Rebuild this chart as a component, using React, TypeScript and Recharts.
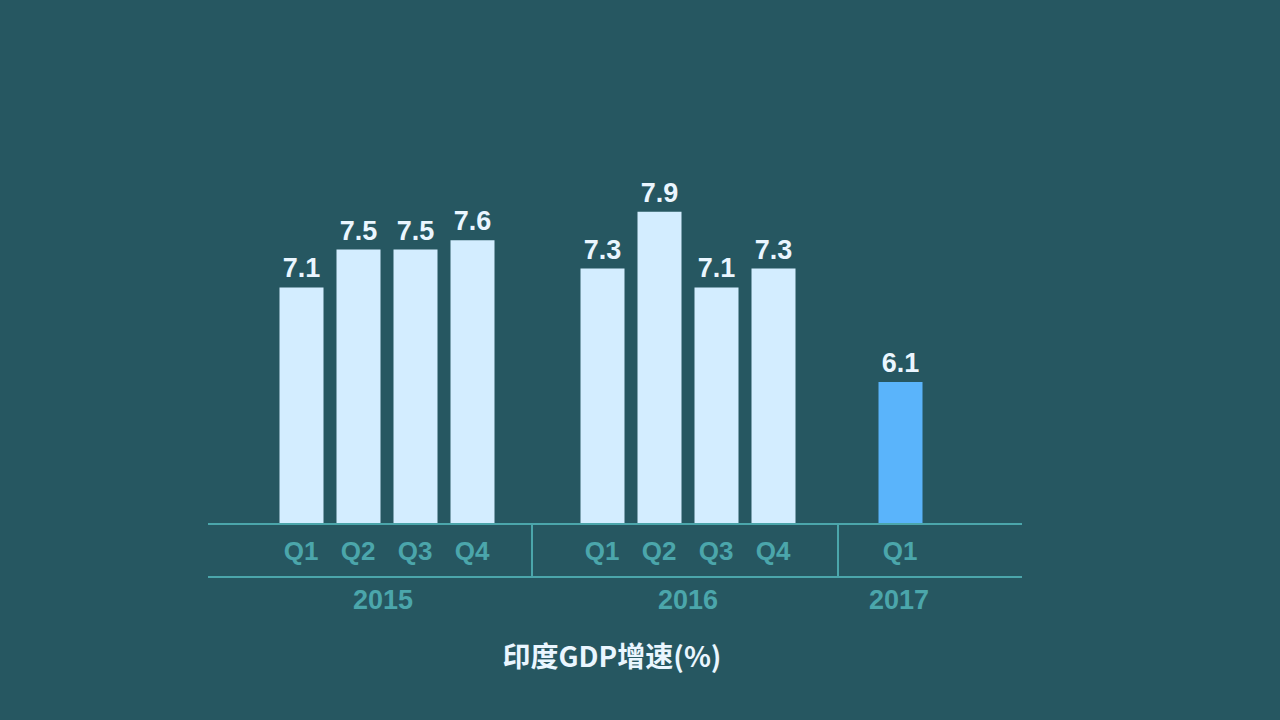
import { BarChart, Bar, XAxis, YAxis, LabelList } from "recharts";

const quarters2015 = ["Q1", "Q2", "Q3", "Q4"];
const values2015 = [7.1, 7.5, 7.5, 7.6];
const quarters2016 = ["Q1", "Q2", "Q3", "Q4"];
const values2016 = [7.3, 7.9, 7.1, 7.3];
const quarters2017 = ["Q1"];
const values2017 = [6.1];
const years = ["2015", "2016", "2017"];
const title = "印度GDP增速(%)";

const BG = "#265761";
const TEAL = "#4ba6ab";
const BAR = "#d3edff";
const BAR_LAST = "#5ab4fb";
const LABEL = "#eaf6ff";
const FONT = "'Liberation Sans', Arial, sans-serif";

const toRows = (qs: string[], vals: number[]) =>
  qs.map((q, i) => ({ q, gdp: vals[i] }));

type GroupProps = {
  rows: { q: string; gdp: number }[];
  year: string;
  left: number;
  width: number;
  padLeft: number;
  padRight: number;
  yearDx: number;
  fill: string;
};

function YearGroup({ rows, year, left, width, padLeft, padRight, yearDx, fill }: GroupProps) {
  return (
    <div style={{ position: "absolute", left, top: 0 }}>
      <BarChart
        width={width}
        height={627}
        data={rows}
        margin={{ top: 155, right: 0, bottom: 0, left: 0 }}
        style={{ fontFamily: FONT }}
      >
        <YAxis hide domain={[4.6, 8.5]} />
        <XAxis
          dataKey="q"
          height={53}
          padding={{ left: padLeft, right: padRight }}
          axisLine={{ stroke: TEAL, strokeWidth: 2 }}
          tickLine={false}
          tickSize={0}
          tickMargin={18}
          tick={{ fill: TEAL, fontSize: 26, fontWeight: "bold" }}
          interval={0}
        />
        <XAxis
          xAxisId="year"
          dataKey="q"
          height={50}
          axisLine={{ stroke: TEAL, strokeWidth: 2 }}
          tickLine={false}
          tick={false}
          label={{
            value: year,
            position: "insideTop",
            offset: 13,
            dx: yearDx,
            fill: TEAL,
            fontSize: 27,
            fontWeight: "bold",
          }}
        />
        <Bar dataKey="gdp" fill={fill} barSize={44} isAnimationActive={false}>
          <LabelList
            dataKey="gdp"
            position="top"
            offset={10}
            fill={LABEL}
            fontSize={27}
            fontWeight="bold"
          />
        </Bar>
      </BarChart>
    </div>
  );
}

export default function App() {
  return (
    <div
      style={{
        position: "fixed",
        left: 0,
        top: 0,
        width: 1280,
        height: 720,
        background: BG,
        overflow: "hidden",
      }}
    >
      <YearGroup
        rows={toRows(quarters2015, values2015)}
        year={years[0]}
        left={208}
        width={324}
        padLeft={64.5}
        padRight={31.5}
        yearDx={13}
        fill={BAR}
      />
      <YearGroup
        rows={toRows(quarters2016, values2016)}
        year={years[1]}
        left={532}
        width={306}
        padLeft={41.5}
        padRight={36.5}
        yearDx={3}
        fill={BAR}
      />
      <YearGroup
        rows={toRows(quarters2017, values2017)}
        year={years[2]}
        left={838}
        width={184}
        padLeft={33.5}
        padRight={93.5}
        yearDx={-31}
        fill={BAR_LAST}
      />
      {/* group separators between the two axis lines */}
      <div style={{ position: "absolute", left: 531, top: 524, width: 2, height: 53, background: TEAL }} />
      <div style={{ position: "absolute", left: 837, top: 524, width: 2, height: 53, background: TEAL }} />
      <div
        style={{
          position: "absolute",
          left: 0,
          width: 1280,
          top: 635,
          textAlign: "center",
          color: LABEL,
          fontFamily: "'Noto Sans CJK SC', sans-serif",
          fontWeight: "bold",
          fontSize: 28,
          transform: "translateX(-28px)",
        }}
      >
        {title}
      </div>
    </div>
  );
}
